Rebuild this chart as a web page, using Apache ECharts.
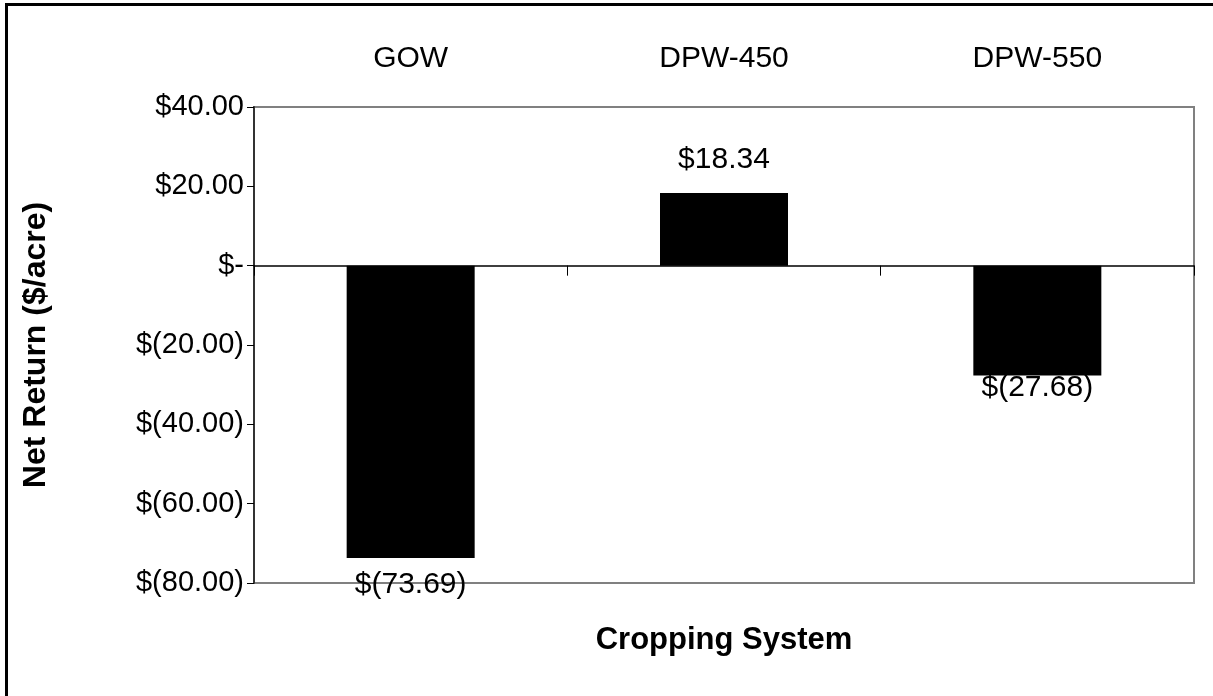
<!DOCTYPE html>
<html>
<head>
<meta charset="utf-8">
<script src="https://cdn.jsdelivr.net/npm/echarts@6/dist/echarts.min.js"></script>
<style>
  html, body { margin: 0; padding: 0; background: #fff; }
  #chart { width: 1213px; height: 696px; }
</style>
</head>
<body>
<div id="chart"></div>
<script>
// Net return per acre for each cropping system
const categories = ['GOW', 'DPW-450', 'DPW-550'];
const netReturn = [-73.69, 18.34, -27.68];
const yTicks = { min: -80, max: 40, interval: 20 };

const FONT = '"Liberation Sans", Arial, sans-serif';

// Accounting-style dollar format: $18.34, $(27.68), $-
function dollars(v) {
  if (Math.abs(v) < 1e-9) return '$-';
  const s = Math.abs(v).toFixed(2);
  return v < 0 ? '$(' + s + ')' : '$' + s;
}

// label gap below each negative bar
const negLabelGap = [12, 0, -3];

const chart = echarts.init(document.getElementById('chart'), null, { renderer: 'canvas' });

chart.setOption({
  animation: false,
  backgroundColor: '#ffffff',
  grid: {
    left: 254, top: 107, right: 19, bottom: 113,
    show: true, borderColor: '#808080', borderWidth: 2, backgroundColor: 'transparent'
  },
  graphic: [
    {
      type: 'rect', silent: true,
      shape: { x: 6.5, y: 4.5, width: 1400, height: 900 },
      style: { fill: 'none', stroke: '#000', lineWidth: 3 }
    },
    {
      type: 'text', silent: true,
      x: 724, y: 640,
      style: {
        text: 'Cropping System', font: 'bold 31px ' + FONT,
        fill: '#000', align: 'center', verticalAlign: 'middle'
      }
    }
  ],
  xAxis: [
    {
      type: 'category', data: categories, position: 'bottom',
      axisLine: { onZero: true, lineStyle: { color: '#000', width: 1.5 } },
      axisTick: { show: true, length: 10, lineStyle: { color: '#000', width: 1 } },
      axisLabel: { show: false },
      splitLine: { show: false }
    },
    {
      type: 'category', data: categories, position: 'top',
      axisLine: { show: false }, axisTick: { show: false },
      axisLabel: { show: true, margin: 33, fontSize: 30, fontFamily: FONT, color: '#000' },
      splitLine: { show: false }
    }
  ],
  yAxis: {
    type: 'value', min: yTicks.min, max: yTicks.max, interval: yTicks.interval,
    name: 'Net Return ($/acre)', nameLocation: 'middle', nameGap: 202,
    nameTextStyle: { fontSize: 32, fontWeight: 'bold', fontFamily: FONT, color: '#000' },
    axisLine: { show: true, lineStyle: { color: '#333', width: 2 } },
    axisTick: { show: true, inside: false, length: 7, lineStyle: { color: '#000', width: 1 } },
    axisLabel: { margin: 10, fontSize: 29, fontFamily: FONT, color: '#000', formatter: dollars },
    splitLine: { show: false }
  },
  series: [{
    type: 'bar', xAxisIndex: 0,
    data: netReturn.map((v, i) => v < 0
      ? { value: v, label: { position: 'bottom', distance: negLabelGap[i] } }
      : { value: v }),
    barWidth: 128,
    itemStyle: { color: '#000' },
    label: {
      show: true, position: 'top', distance: 18,
      fontSize: 30, fontFamily: FONT, color: '#000',
      formatter: p => dollars(p.value)
    }
  }]
});
</script>
</body>
</html>
